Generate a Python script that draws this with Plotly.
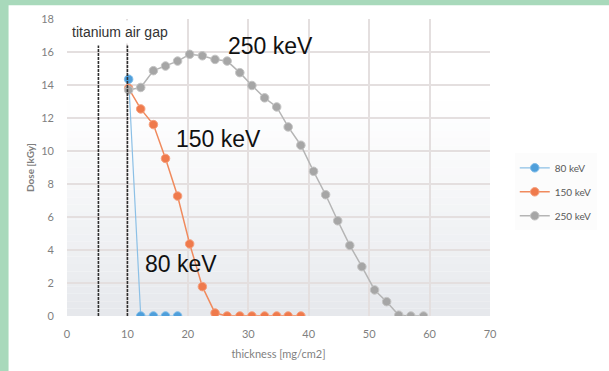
import plotly.graph_objects as go

# ---------------- data ----------------
x_80 = [10.2, 12.2, 14.3, 16.3, 18.3]
y_80 = [14.35, 0, 0, 0, 0]

x_150 = [10.2, 12.2, 14.3, 16.3, 18.3, 20.3, 22.4, 24.5, 26.5, 28.6, 30.6, 32.7,
         34.7, 36.6, 38.7]
y_150 = [13.8, 12.55, 11.6, 9.55, 7.27, 4.37, 1.78, 0.18, 0, 0, 0, 0, 0, 0, 0]

x_250 = [10.2, 12.2, 14.3, 16.3, 18.3, 20.3, 22.4, 24.5, 26.5, 28.6, 30.6, 32.7,
         34.7, 36.6, 38.7, 40.8, 42.8, 44.8, 46.8, 48.8, 50.9, 52.9, 54.9, 56.9, 59.0]
y_250 = [13.7, 13.85, 14.87, 15.15, 15.45, 15.86, 15.77, 15.55, 15.45, 14.75, 13.97,
         13.22, 12.67, 11.46, 10.35, 8.77, 7.35, 5.77, 4.28, 2.99, 1.58, 0.87, 0.05, 0, 0]

series_names = ["80 keV", "150 keV", "250 keV"]
layer_lines = [5.2, 10.0]          # titanium / air gap boundaries
layer_top = 16.4
curve_labels = ["250 keV", "150 keV", "80 keV"]
curve_label_x = [33.7, 25.1, 18.8]
curve_label_y = [16.35, 10.72, 3.15]

x_ticks = [0, 10, 20, 30, 40, 50, 60, 70]
y_ticks = [0, 2, 4, 6, 8, 10, 12, 14, 16, 18]

# ---------------- figure ----------------
W, H = 609, 371
L, R, T, B = 67, 115, 19, 49
plot_w = W - L - R
plot_h = H - T - B

fig = go.Figure()

styles = [
    dict(line=dict(color="#8cc0e6", width=1.2), marker=dict(color="#4f9fdb", size=8.5, line=dict(color="#7dbbe8", width=1))),
    dict(line=dict(color="#f08a5d", width=1.5), marker=dict(color="#ef7a4c", size=8.5, line=dict(color="#f5a07e", width=1))),
    dict(line=dict(color="#b5b5b5", width=1.5), marker=dict(color="#a6a6a6", size=8.5, line=dict(color="#c4c4c4", width=1))),
]
for name, xs, ys, st in zip(series_names, [x_80, x_150, x_250], [y_80, y_150, y_250], styles):
    fig.add_trace(go.Scatter(x=xs, y=ys, name=name, mode="lines+markers",
                             line=st["line"], marker=st["marker"], legendgroup=name))

px_to_paper_x = lambda p: (p - L) / plot_w
px_to_paper_y = lambda p: (H - B - p) / plot_h

# white card on green page (paper is green)
green = "#a8d9bb"
fig.add_shape(type="rect", xref="paper", yref="paper", x0=px_to_paper_x(8), x1=px_to_paper_x(W + 10),
              y0=px_to_paper_y(H + 10), y1=px_to_paper_y(5), fillcolor="#ffffff",
              line=dict(width=0), layer="below")

# vertical gradient plot background drawn as thin bands
n_bands = 40
top_c = (255, 255, 255)
bot_c = (229, 232, 236)
for i in range(n_bands):
    t = (i + 0.5) / n_bands          # 0 at top, 1 at bottom
    f = max(0.0, (t - 0.25) / 0.75) ** 1.2
    c = tuple(round(a + (b - a) * f) for a, b in zip(top_c, bot_c))
    fig.add_shape(type="rect", xref="x domain", yref="y domain", x0=0, x1=1,
                  y0=1 - (i + 1) / n_bands, y1=1 - i / n_bands,
                  fillcolor="rgb(%d,%d,%d)" % c, line=dict(width=0), layer="below")

# vertical layer boundary lines
for xv in layer_lines:
    fig.add_shape(type="line", xref="x", yref="y", x0=xv, x1=xv, y0=0, y1=layer_top,
                  line=dict(color="#2f2f2f", width=1.6, dash="3px,1px"), layer="above")

# annotations
for txt, ax, ay in zip(curve_labels, curve_label_x, curve_label_y):
    fig.add_annotation(x=ax, y=ay, xref="x", yref="y", text=txt, showarrow=False,
                       font=dict(family="Liberation Sans", size=23, color="#111111"))
fig.add_annotation(x=0.15, y=17.2, xref="x", yref="y", text="titanium air gap", showarrow=False,
                   xanchor="left", yanchor="middle", bgcolor="#ffffff",
                   font=dict(family="Liberation Sans", size=14, color="#333333"), borderpad=3)

axis_font = dict(family="Lato", size=11, color="#7f7f7f")
fig.update_xaxes(range=[0, 70], tickvals=x_ticks, showgrid=True, gridcolor="#e4dfdf", gridwidth=1.5,
                 zeroline=False, showline=False, tickfont=axis_font, ticks="", ticklabelstandoff=10,
                 title=dict(text="thickness [mg/cm2]", font=dict(family="Lato", size=11, color="#7f7f7f"), standoff=11))
fig.update_yaxes(range=[0, 18], tickvals=y_ticks, showgrid=True, gridcolor="#e4dfdf", gridwidth=1.5,
                 zeroline=False, showline=False, tickfont=axis_font, ticks="", ticklabelstandoff=12,
                 title=dict(text="<b>Dose [kGy]</b>", font=dict(family="Lato", size=10, color="#7f7f7f"), standoff=4))

fig.update_layout(
    width=W, height=H,
    margin=dict(l=L, r=R, t=T, b=B),
    paper_bgcolor=green, plot_bgcolor="rgba(0,0,0,0)",
    showlegend=True,
    legend=dict(x=px_to_paper_x(519), y=px_to_paper_y(156), xanchor="left", yanchor="top",
                font=dict(family="Lato", size=10, color="#595959"), bgcolor="rgba(250,250,250,0.6)",
                tracegroupgap=5, itemwidth=30),
)

post = ("var d=document.documentElement,b=document.body;"
        "d.style.margin='0';d.style.padding='0';d.style.overflow='hidden';d.style.height='371px';"
        "b.style.margin='0';b.style.padding='0';b.style.overflow='hidden';b.style.height='371px';")
fig.write_html("out.html", config={"displayModeBar": False}, post_script=post)
